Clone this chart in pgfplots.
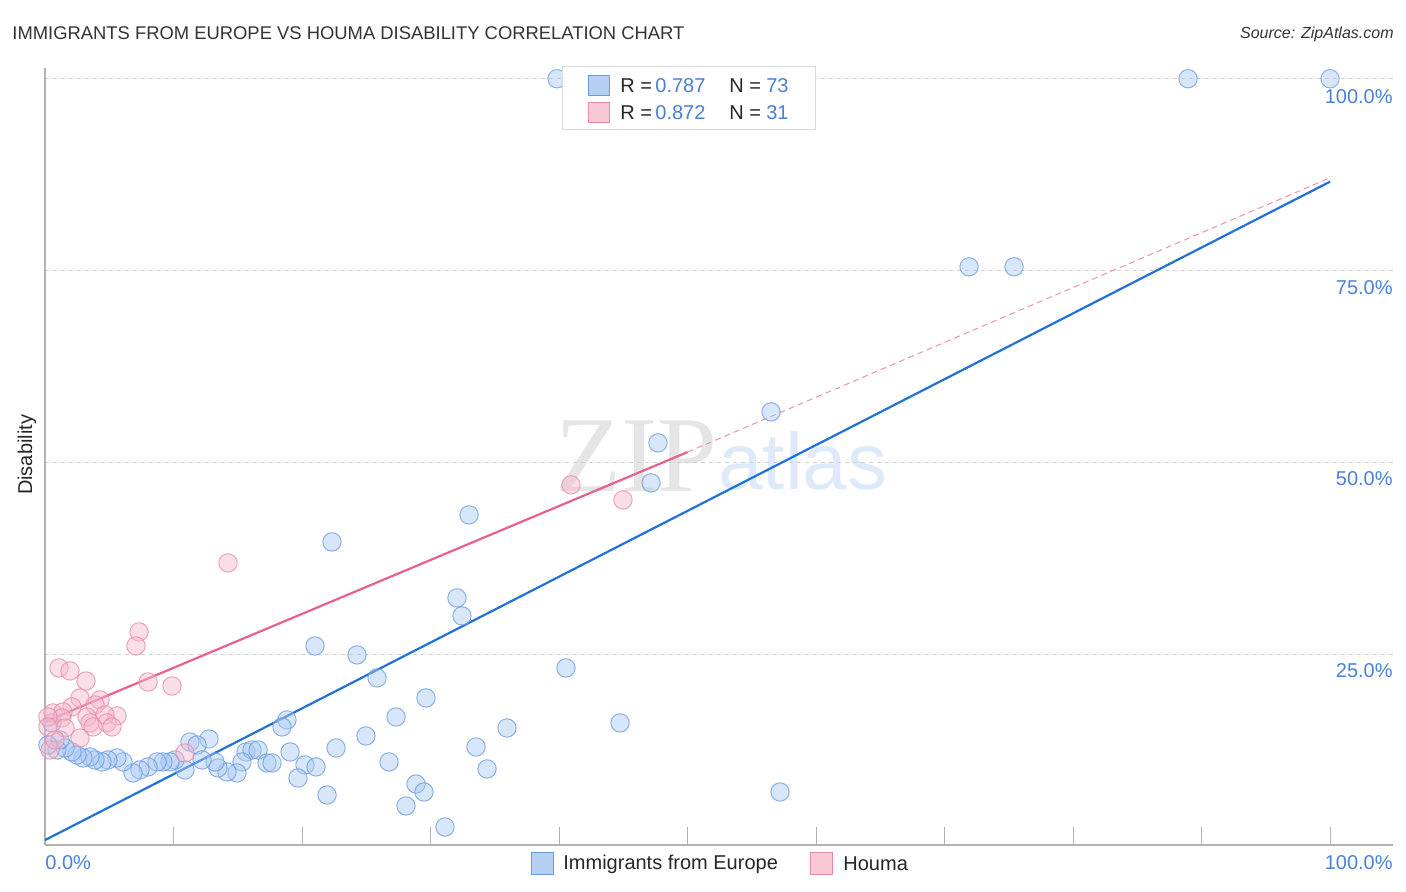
\documentclass[border=0pt]{standalone}
\usepackage{pgfplots}
\pgfplotsset{compat=1.18}
\usepackage{fontspec}
\setmainfont{Liberation Sans}
\newfontfamily\serifwm{Liberation Serif}
\definecolor{bfill}{HTML}{A9C8F2}
\definecolor{bedge}{HTML}{6A9BE0}
\definecolor{pfill}{HTML}{F6B6CA}
\definecolor{pedge}{HTML}{E88AA7}
\definecolor{bline}{HTML}{2171D8}
\definecolor{pline}{HTML}{E8618B}
\definecolor{lblue}{HTML}{4A80D6}
\definecolor{ttl}{HTML}{333333}

\pgfplotstableread{
x y
39.84 100.0
88.95 100.0
100.0 100.0
71.91 75.52
75.41 75.52
56.50 56.64
47.70 52.60
47.16 47.40
33.00 43.23
22.33 39.71
32.06 32.42
32.45 30.08
21.01 26.17
24.28 25.00
40.54 23.31
25.84 22.01
29.65 19.40
27.32 16.93
18.83 16.54
18.44 15.63
44.75 16.15
35.95 15.49
24.98 14.45
33.54 13.02
22.65 12.89
19.07 12.37
26.77 11.07
20.23 10.68
21.09 10.42
34.40 10.16
19.69 8.98
28.87 8.20
29.49 7.16
21.95 6.77
57.20 7.16
28.09 5.34
31.13 2.60
12.76 14.06
11.28 13.67
11.83 13.28
15.64 12.37
16.11 12.63
16.58 12.63
17.28 10.94
17.67 10.94
15.33 11.07
14.94 9.64
14.16 9.77
13.46 10.29
13.23 11.07
12.22 11.33
10.89 10.03
10.12 11.33
9.73 11.07
9.18 11.07
8.72 11.07
8.02 10.42
7.39 10.03
6.85 9.64
6.07 11.07
5.60 11.59
4.90 11.33
4.44 11.07
3.89 11.33
3.50 11.72
2.96 11.59
2.49 11.98
2.10 12.37
1.56 12.89
0.93 12.63
0.54 16.15
1.17 13.93
0.23 13.28
}\europe

\pgfplotstableread{
x y
40.93 47.14
44.98 45.18
14.24 36.98
7.32 27.99
7.08 26.17
1.09 23.31
1.95 22.92
3.19 21.61
8.02 21.48
9.88 20.96
2.72 19.40
4.28 19.14
2.10 18.23
3.89 18.49
0.62 17.45
1.40 17.58
5.60 17.06
4.67 17.19
3.27 16.93
4.82 16.15
3.50 16.15
3.74 15.63
5.21 15.63
1.32 16.80
0.23 16.93
2.72 14.19
1.56 15.49
0.23 15.63
0.39 12.63
10.89 12.24
0.78 13.93
}\houma

\begin{document}
\begin{tikzpicture}[x=1pt,y=1pt]
\path[use as bounding box] (0,0) rectangle (703,446);
% watermark
\node[anchor=base west, inner sep=0, font=\serifwm\fontsize{54}{54}\selectfont, text=black!10] at (277.5,200) {ZIP};
\node[anchor=base west, inner sep=0, font=\fontsize{40}{40}\selectfont, text=bfill!38] at (359,201) {atlas};
\begin{axis}[
  at={(22.5pt,23.5pt)}, anchor=south west, scale only axis,
  width=674pt, height=388.5pt,
  xmin=0, xmax=104.9, ymin=0.26, ymax=101.4,
  axis x line*=bottom, axis y line*=left,
  axis line style={draw=black!30, line width=0.6pt},
  xtick={10,20,...,100}, xticklabels={},
  tick align=inside, major tick length=9pt,
  x tick style={draw=black!30, line width=0.5pt},
  ytick={25,50,75,100}, yticklabels={},
  y tick style={draw=none},
  ymajorgrids, grid style={draw=black!18, dash pattern=on 2pt off 2pt, line width=0.5pt},
  clip=false,
]
\addplot[only marks, mark=*, mark size=4.6pt, mark options={fill=bfill, fill opacity=0.45, draw=bedge, draw opacity=0.75, line width=0.5pt}] table[x=x,y=y] {\europe};
\addplot[only marks, mark=*, mark size=4.6pt, mark options={fill=pfill, fill opacity=0.45, draw=pedge, draw opacity=0.75, line width=0.5pt}] table[x=x,y=y] {\houma};
\addplot[pline!70, line width=0.5pt, dash pattern=on 3pt off 2pt] coordinates {(50,51.4) (100,87.1)};
\addplot[pline, line width=1.1pt] coordinates {(0,16.3) (50,51.4)};
\addplot[bline, line width=1.1pt] coordinates {(0,0.9) (100,86.6)};
\end{axis}
% titles
\node[anchor=base west, inner sep=0, font=\fontsize{9.2}{11}\selectfont, text=ttl] at (6,426) {IMMIGRANTS FROM EUROPE VS HOUMA DISABILITY CORRELATION CHART};
\node[anchor=base east, inner sep=0, font=\fontsize{8}{10}\selectfont\itshape, text=ttl] at (697,426.5) {Source: ZipAtlas.com};
\node[rotate=90, inner sep=0, font=\fontsize{10}{12}\selectfont, text=black!85] at (13.5,218.5) {Disability};
% right y labels
\foreach \yy/\lab in {397.5/100.0\%, 302/75.0\%, 206.5/50.0\%, 110.5/25.0\%}{
  \node[anchor=east, inner sep=0, font=\fontsize{10}{12}\selectfont, text=lblue] at (696.5,\yy) {\lab};
}
\node[anchor=west, inner sep=0, font=\fontsize{10}{12}\selectfont, text=lblue] at (22.5,14.5) {0.0\%};
\node[anchor=east, inner sep=0, font=\fontsize{10}{12}\selectfont, text=lblue] at (696.5,14.5) {100.0\%};
% bottom legend
\draw[fill=bfill!85, draw=bedge, line width=0.5pt] (265.5,8.5) rectangle (276.5,19.5);
\node[anchor=west, inner sep=0, font=\fontsize{10}{12}\selectfont, text=black!85] at (281.5,14) {Immigrants from Europe};
\draw[fill=pfill!75, draw=pedge, line width=0.5pt] (405,8.5) rectangle (416,19.5);
\node[anchor=west, inner sep=0, font=\fontsize{10}{12}\selectfont, text=black!85] at (421.5,14) {Houma};
% top stats box
\draw[fill=white, draw=black!15, line width=0.5pt] (281,381) rectangle (407.5,412.5);
\draw[fill=bfill!85, draw=bedge, line width=0.5pt] (294,398) rectangle (304.5,408);
\draw[fill=pfill!75, draw=pedge, line width=0.5pt] (294,384.5) rectangle (304.5,394.5);
\node[anchor=west, inner sep=0, font=\fontsize{10}{12}\selectfont, text=black!85] at (310,403) {R =};
\node[anchor=west, inner sep=0, font=\fontsize{10}{12}\selectfont, text=lblue] at (327.5,403) {0.787};
\node[anchor=west, inner sep=0, font=\fontsize{10}{12}\selectfont, text=black!85] at (364.5,403) {N =};
\node[anchor=east, inner sep=0, font=\fontsize{10}{12}\selectfont, text=lblue] at (394.5,403) {73};
\node[anchor=west, inner sep=0, font=\fontsize{10}{12}\selectfont, text=black!85] at (310,389.5) {R =};
\node[anchor=west, inner sep=0, font=\fontsize{10}{12}\selectfont, text=lblue] at (327.5,389.5) {0.872};
\node[anchor=west, inner sep=0, font=\fontsize{10}{12}\selectfont, text=black!85] at (364.5,389.5) {N =};
\node[anchor=east, inner sep=0, font=\fontsize{10}{12}\selectfont, text=lblue] at (394.5,389.5) {31};
\end{tikzpicture}
\end{document}
